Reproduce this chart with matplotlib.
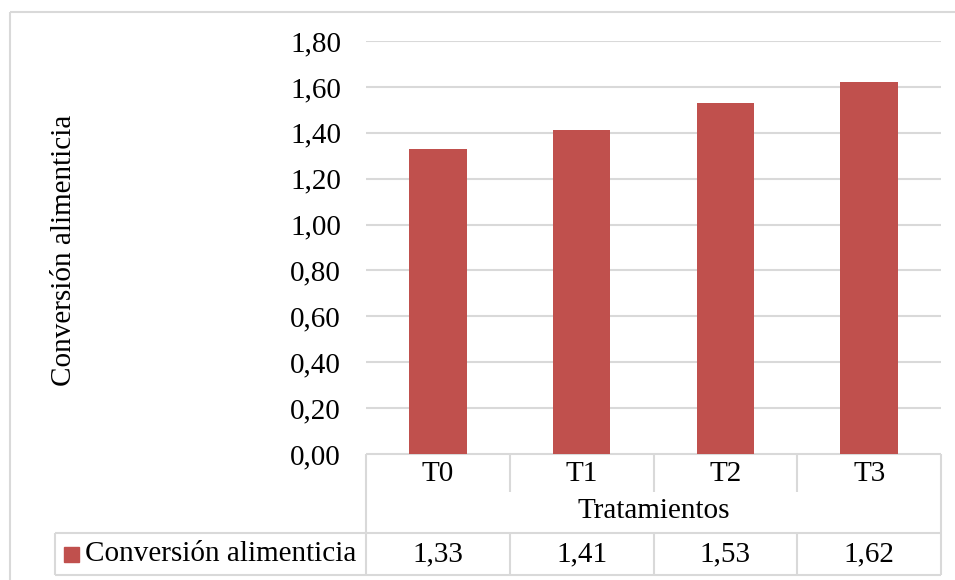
import matplotlib
matplotlib.use("Agg")
import matplotlib.pyplot as plt
from matplotlib.patches import Rectangle

plt.rcParams['font.family'] = ['Liberation Serif', 'DejaVu Serif']

tratamientos = ["T0", "T1", "T2", "T3"]
conversion = [1.33, 1.41, 1.53, 1.62]
yticks = [0.0, 0.2, 0.4, 0.6, 0.8, 1.0, 1.2, 1.4, 1.6, 1.8]
serie = "Conversión alimenticia"
eje_x = "Tratamientos"

W, H = 955, 580
bar_color = "#C0504D"
line_color = "#D9D9D9"
fs = 21

fig = plt.figure(figsize=(W / 100, H / 100), dpi=100)

# plot area in pixels
left, right, top, bottom = 366, 941, 41, 454
ax = fig.add_axes([left / W, 1 - bottom / H, (right - left) / W, (bottom - top) / H])
ax.bar(range(len(tratamientos)), conversion, width=0.4, color=bar_color, zorder=3)
ax.set_xlim(-0.5, len(tratamientos) - 0.5)
ax.set_ylim(0, 1.8)
ax.set_yticks(yticks)
ax.set_yticklabels([f"{v:.2f}".replace(".", ",") for v in yticks], fontsize=fs)
ax.tick_params(axis="y", length=0, pad=18)
ax.set_xticks([])
for s in ax.spines.values():
    s.set_visible(False)
ax.grid(axis="y", color=line_color, linewidth=1.5, zorder=0)

# overlay in pixel coordinates for the frame and data table
ov = fig.add_axes([0, 0, 1, 1], zorder=-1)
ov.set_xlim(0, W)
ov.set_ylim(H, 0)
ov.axis("off")

def hline(x0, x1, y):
    ov.plot([x0, x1], [y, y], color=line_color, lw=1.5, solid_capstyle="butt")

def vline(x, y0, y1):
    ov.plot([x, x], [y0, y1], color=line_color, lw=1.5, solid_capstyle="butt")

# outer chart frame
hline(10, W, 12)
vline(10, 12, H)

n = len(tratamientos)
colw = (right - left) / n
edges = [left + i * colw for i in range(n + 1)]
row1, row2, row3, row4 = bottom, 492, 533, 575

hline(left, right, row1)
hline(55, right, row3)
hline(55, right, row4)
vline(left, row1, row4)
vline(right, row1, row4)
vline(55, row3, row4)
for x in edges[1:-1]:
    vline(x, row1, row2)
    vline(x, row3, row4)

for i, (t, v) in enumerate(zip(tratamientos, conversion)):
    cx = (edges[i] + edges[i + 1]) / 2
    ov.text(cx, (row1 + row2) / 2 + 1, t, fontsize=fs, ha="center", va="center")
    ov.text(cx, (row3 + row4) / 2, f"{v:.2f}".replace(".", ","), fontsize=fs,
            ha="center", va="center")

ov.text((left + right) / 2, (row2 + row3) / 2 - 1, eje_x, fontsize=fs, ha="center", va="center")

ov.add_patch(Rectangle((64, 547), 15, 15, color=bar_color))
ov.text(85, (row3 + row4) / 2, serie, fontsize=fs, ha="left", va="center")

fig.text(64 / W, 1 - 250 / H, serie, fontsize=fs, rotation=90, ha="center", va="center")

fig.savefig("out.png", dpi=100, facecolor="white")
